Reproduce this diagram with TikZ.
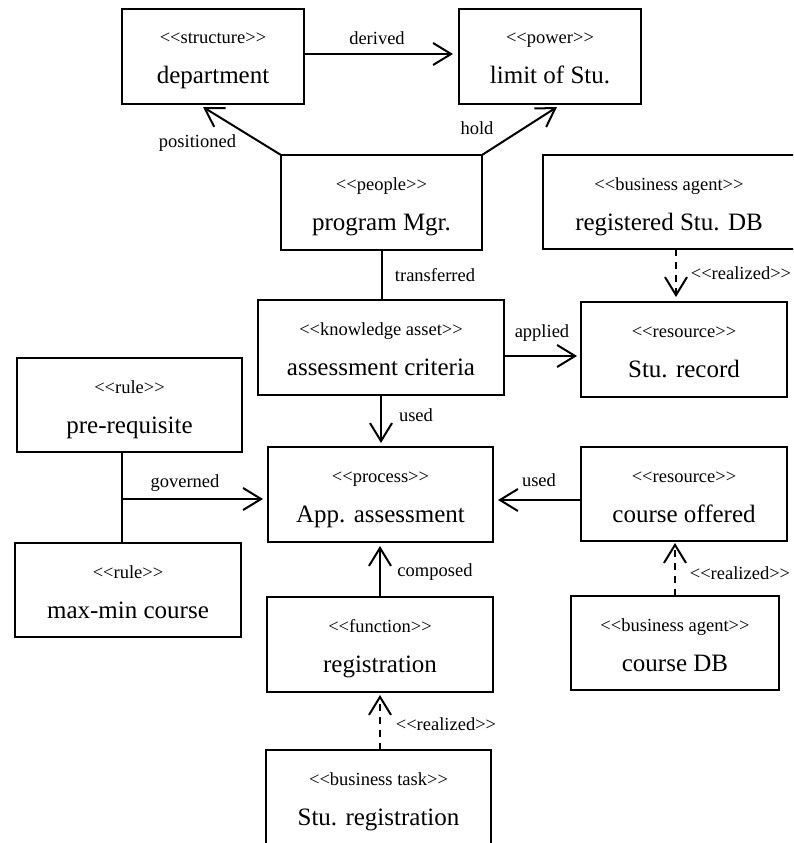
\documentclass[tikz,border=0pt]{standalone}
\usepackage{fontspec}
\setmainfont{Liberation Serif}
\usetikzlibrary{arrows.meta}

\tikzset{
  boxshape/.style={draw, line width=2pt, inner sep=0pt, outer sep=0pt, rectangle},
  stereo/.style={inner sep=0pt, anchor=base, font=\fontsize{18.5}{22}\selectfont},
  maintext/.style={inner sep=0pt, anchor=base, font=\fontsize{25}{30}\selectfont},
  lbl/.style={inner sep=0pt, font=\fontsize{18.5}{22}\selectfont},
  link/.style={line width=2pt},
  arr/.style={line width=2pt, -{Straight Barb[length=18pt,width=22pt]}},
  realize/.style={line width=2.4pt, dash pattern=on 7pt off 6pt,
    -{Straight Barb[length=18pt,width=22pt,line width=2pt]}},
}

% stereotyped box: name, left, top, right, bottom, stereotype, name text
\newcommand\umlbox[7]{%
  \node[boxshape, minimum width={(#4-#2)*1pt}, minimum height={(#5-#3)*1pt}]
    (#1) at ({(#2+#4)/2},{(#3+#5)/2}) {};
  \node[stereo] (#1-s) at ({(#2+#4)/2},{#3+35}) {<{}<#6>{}>};
  \node[maintext] (#1-m) at ({(#2+#4)/2},{#3+75}) {#7};
}

\begin{document}
\begin{tikzpicture}[x=1pt,y=-1pt]
\useasboundingbox (0,0) rectangle (793,843);
\begin{scope}
\clip (0,0) rectangle (793,843);

\umlbox{dep}{122}{9}{304}{104}{structure}{department}
\umlbox{lim}{459}{9}{641}{104}{power}{limit of Stu.}
\umlbox{pm}{281}{155}{482}{250}{people}{program Mgr.}
\umlbox{rdb}{543}{155}{795}{249}{business agent}{registered Stu. DB}
\umlbox{ac}{258}{300}{504}{395}{knowledge asset}{assessment criteria}
\umlbox{sr}{581}{302}{787}{397}{resource}{Stu. record}
\umlbox{pre}{17}{358}{242}{452}{rule}{pre-requisite}
\umlbox{mm}{15}{543}{241}{637}{rule}{max-min course}
\umlbox{app}{268}{447}{493}{542}{process}{App. assessment}
\umlbox{co}{581}{447}{787}{541}{resource}{course offered}
\umlbox{reg}{267}{597}{493}{692}{function}{registration}
\umlbox{cdb}{571}{596}{779}{690}{business agent}{course DB}
\umlbox{str}{266}{750}{491}{855}{business task}{Stu. registration}

% connectors
\draw[arr] ([yshift=2.5pt]dep.east) -- ([yshift=2.5pt,xshift=-6pt]lim.west);
\draw[arr] (pm.north west) -- ([xshift=-10pt,yshift=-3pt]dep.south);
\draw[arr] (pm.north east) -- ([xshift=7pt,yshift=-3pt]lim.south);
\draw[link] (pm.south) -- (pm.south |- ac.north);
\draw[arr] ([yshift=-8.5pt]ac.east) -- ([yshift=-8.5pt,xshift=-4pt]ac.east -| sr.west);
\draw[realize] ([xshift=7pt]rdb.south) -- ([xshift=7pt,yshift=5pt]rdb.south |- sr.north);
\draw[arr] (ac.south) -- ([yshift=4pt]ac.south |- app.north);

\coordinate (gj) at (122,499);
\draw[link] (gj |- pre.south) -- (gj |- mm.north);
\draw[arr] (gj) -- ([xshift=-5pt]gj -| app.west);
\draw[arr] ([yshift=-6pt]co.west) -- ([yshift=-6pt,xshift=5pt]co.west -| app.east);
\draw[arr] (reg.north) -- ([yshift=-4pt]reg.north |- app.south);
\draw[realize] (cdb.north) -- ([yshift=-2pt]cdb.north |- co.south);
\draw[realize] ([xshift=1.5pt]str.north) -- ([xshift=1.5pt,yshift=-3pt]str.north |- reg.south);

% connector labels
\node[lbl] (l-derived) at (377,38) {derived};
\node[lbl] (l-pos) at (197.5,143) {positioned};
\node[lbl] (l-hold) at (477,128) {hold};
\node[lbl] (l-trans) at (435,275) {transferred};
\node[lbl] (l-real1) at (741,273) {<{}<realized>{}>};
\node[lbl] (l-applied) at (542,333) {applied};
\node[lbl] (l-used1) at (416,415) {used};
\node[lbl] (l-gov) at (185,483) {governed};
\node[lbl] (l-used2) at (539,480) {used};
\node[lbl] (l-comp) at (435,572) {composed};
\node[lbl] (l-real2) at (740,573) {<{}<realized>{}>};
\node[lbl] (l-real3) at (446,724) {<{}<realized>{}>};
\end{scope}
\end{tikzpicture}
\end{document}
